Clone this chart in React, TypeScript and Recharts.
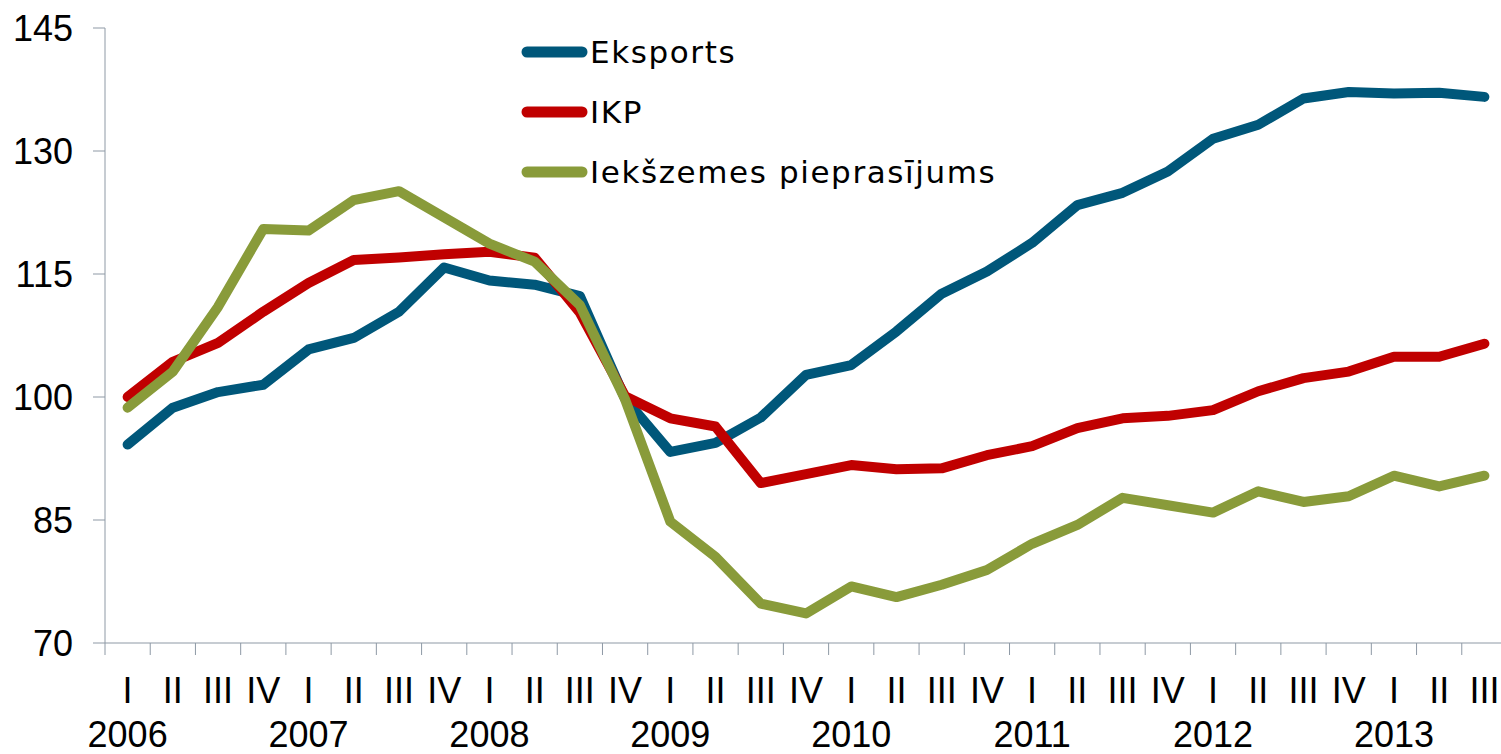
import React from 'react';
import { LineChart, Line, XAxis, YAxis, Legend } from 'recharts';

const QUARTERS = [
  'I', 'II', 'III', 'IV', 'I', 'II', 'III', 'IV', 'I', 'II', 'III', 'IV', 'I', 'II', 'III', 'IV',
  'I', 'II', 'III', 'IV', 'I', 'II', 'III', 'IV', 'I', 'II', 'III', 'IV', 'I', 'II', 'III',
];
const YEARS = ['2006', '2007', '2008', '2009', '2010', '2011', '2012', '2013'];

const EKSPORTS = [
  94.2, 98.7, 100.6, 101.5, 105.8, 107.2, 110.4, 115.8, 114.2, 113.7, 112.3, 99.8,
  93.3, 94.4, 97.5, 102.7, 103.9, 108.0, 112.6, 115.3, 118.8, 123.4, 124.9, 127.5,
  131.5, 133.2, 136.4, 137.2, 137.0, 137.1, 136.6,
];
const IKP = [
  100.0, 104.3, 106.6, 110.4, 113.9, 116.7, 117.0, 117.4, 117.7, 117.0, 110.3, 100.1,
  97.4, 96.4, 89.5, 90.6, 91.7, 91.2, 91.3, 92.9, 94.0, 96.2, 97.4, 97.7,
  98.4, 100.7, 102.3, 103.1, 104.9, 104.9, 106.5,
];
const IEKSZEMES = [
  98.7, 103.1, 111.0, 120.5, 120.3, 124.0, 125.1, 121.9, 118.7, 116.5, 111.2, 99.7,
  84.8, 80.5, 74.8, 73.6, 76.9, 75.6, 77.1, 78.9, 82.1, 84.4, 87.7, 86.8,
  85.9, 88.5, 87.2, 87.9, 90.4, 89.1, 90.4,
];
const Y_TICKS = [70, 85, 100, 115, 130, 145];

const data = QUARTERS.map((q, i) => ({
  q,
  year: i % 4 === 0 ? YEARS[i / 4] : '',
  eksports: EKSPORTS[i],
  ikp: IKP[i],
  iekszemes: IEKSZEMES[i],
}));

const SERIES = [
  { key: 'eksports', name: 'Eksports', color: '#00577A' },
  { key: 'ikp', name: 'IKP', color: '#C00000' },
  { key: 'iekszemes', name: 'Iekšzemes pieprasījums', color: '#899B3A' },
];

const CHART_W = 1507;
const CHART_H = 754;
const TOP = 28;
const AXIS_W = 105;
const XAXIS_H = 111;
const AXIS_Y = CHART_H - XAXIS_H;
const BAND = (CHART_W - AXIS_W) / QUARTERS.length;
const AXIS_COLOR = '#8E99A5';
const NUM_FONT = '"Liberation Sans", Arial, sans-serif';

function QuarterTick({ x, payload, index }: { x?: number; payload?: { value: string }; index?: number }) {
  const cx = x ?? 0;
  const year = data[index ?? 0]?.year;
  return (
    <g>
      <line x1={cx - BAND / 2} x2={cx - BAND / 2} y1={AXIS_Y} y2={AXIS_Y + 12} stroke={AXIS_COLOR} strokeWidth={1} />
      <text x={cx} y={AXIS_Y + 60} textAnchor="middle" fontSize={36} fontFamily={NUM_FONT} fill="#000">
        {payload?.value}
      </text>
      {year ? (
        <text x={cx} y={AXIS_Y + 104} textAnchor="middle" fontSize={36} fontFamily={NUM_FONT} fill="#000">
          {year}
        </text>
      ) : null}
    </g>
  );
}

function LegendBox() {
  return (
    <svg width={520} height={200} style={{ display: 'block' }}>
      {SERIES.map((s, i) => (
        <g key={s.key}>
          <line x1={8} x2={63} y1={27 + i * 60} y2={27 + i * 60} stroke={s.color} strokeWidth={11} strokeLinecap="round" />
          <text x={71} y={38 + i * 60} fontSize={31} letterSpacing={1.6} fontFamily='"DejaVu Sans", sans-serif' fill="#000">
            {s.name}
          </text>
        </g>
      ))}
    </svg>
  );
}

export default function App() {
  return (
    <div style={{ position: 'absolute', left: 0, top: 0, width: 1501, height: 754, overflow: 'hidden', background: '#fff' }}>
      <LineChart width={CHART_W} height={CHART_H} data={data} margin={{ top: TOP, right: 0, bottom: 0, left: 0 }}>
        <XAxis
          dataKey="q"
          height={XAXIS_H}
          interval={0}
          padding={{ left: BAND / 2, right: BAND / 2 }}
          tickLine={false}
          stroke={AXIS_COLOR}
          tick={<QuarterTick />}
        />
        <YAxis
          width={AXIS_W}
          domain={[70, 145]}
          ticks={Y_TICKS}
          interval={0}
          stroke={AXIS_COLOR}
          tickSize={12}
          tickMargin={20}
          tick={{ fontSize: 36, fill: '#000', fontFamily: NUM_FONT }}
        />
        <Legend
          layout="horizontal"
          verticalAlign="middle"
          align="center"
          content={<LegendBox />}
          wrapperStyle={{ position: 'absolute', left: 519, top: 25, width: 520 }}
        />
        {SERIES.map((s) => (
          <Line
            key={s.key}
            dataKey={s.key}
            name={s.name}
            stroke={s.color}
            strokeWidth={10}
            strokeLinecap="round"
            strokeLinejoin="round"
            dot={false}
            activeDot={false}
            isAnimationActive={false}
          />
        ))}
      </LineChart>
    </div>
  );
}
